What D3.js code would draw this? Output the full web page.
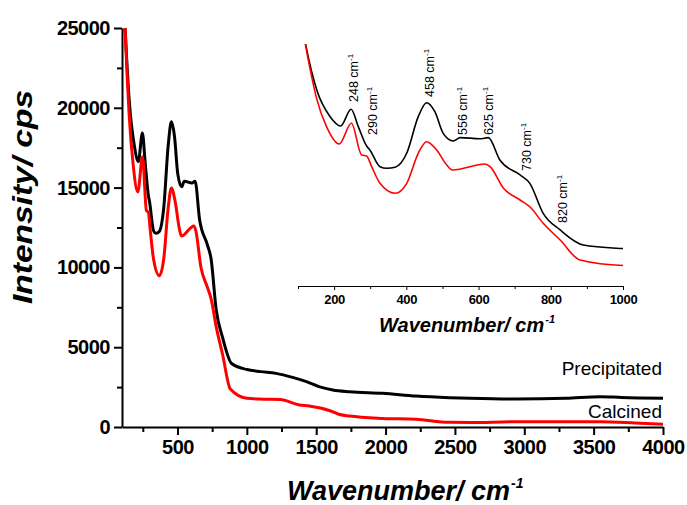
<!DOCTYPE html>
<html>
<head>
<meta charset="utf-8">
<script src="https://cdn.jsdelivr.net/npm/d3@7"></script>
<style>
    body { margin: 0; background: #fff; }
    svg { font-family: "Liberation Sans", Arial, sans-serif; }
    .axis path, .axis line { stroke: #000; }
</style>
</head>
<body>
<svg class="svg" width="687" height="505"></svg>
<script>
// wavenumber (cm-1) and intensity (cps)
const precipX = [100, 122, 152, 189, 218, 247, 267, 290, 299, 327, 346, 369, 401, 433, 456, 479, 502, 530, 549, 604, 627, 659, 715, 742, 779, 826, 890, 1000, 1100, 1210, 1330, 1430, 1520, 1620, 1740, 1980, 2220, 2460, 2610, 2940, 3300, 3550, 3700, 4000];
const precipY = [30000, 25150, 20470, 17630, 16640, 18420, 16570, 14510, 14090, 12310, 12140, 12250, 13740, 17630, 19120, 18160, 15860, 15050, 15400, 15290, 15400, 13020, 11430, 10540, 7350, 5580, 3980, 3600, 3470, 3360, 3110, 2840, 2530, 2320, 2210, 2110, 1940, 1840, 1800, 1750, 1800, 1900, 1850, 1800];

const calcX = [100, 122, 140, 152, 179, 214, 248, 276, 290, 304, 327, 369, 401, 433, 456, 484, 512, 528, 618, 632, 669, 715, 742, 779, 826, 881, 1000, 1090, 1240, 1380, 1450, 1600, 1670, 1740, 1980, 2220, 2460, 2610, 2940, 3550, 3800, 4000];
const calcY = [30000, 25000, 21500, 19500, 16570, 14730, 16930, 13560, 13450, 12310, 10540, 9480, 10540, 13740, 14970, 14090, 12490, 11960, 12600, 12310, 10010, 8770, 8050, 6290, 4510, 2380, 1800, 1750, 1720, 1380, 1320, 1020, 780, 690, 540, 480, 290, 280, 330, 330, 250, 170];

const seriesNames = ['Precipitated', 'Calcined'];
const seriesColors = ['#000', '#ff0000'];

const xTicks = [500, 1000, 1500, 2000, 2500, 3000, 3500, 4000];
const yTicks = [0, 5000, 10000, 15000, 20000, 25000];
const insetTicks = [200, 400, 600, 800, 1000];

// peak labels in the inset: wavenumber text and where it sits
const peakLabels = ['248', '290', '458', '556', '625', '730', '820'];
const peakPos = [[358, 102], [377, 135], [434, 97], [467, 135], [493, 135], [531, 171], [567, 223]];

function drawChart () {
    const margin = { top: 28, right: 24, bottom: 78, left: 122 };
    const width = 687;
    const height = 505;

    const svg = d3.select('.svg');

    const series = [
        precipX.map((x, i) => ({ x: x, y: precipY[i] })),
        calcX.map((x, i) => ({ x: x, y: calcY[i] }))
    ];

    /* MAIN SCALES */
    const xScale = d3.scaleLinear()
        .domain([100, 4000])
        .range([margin.left, width - margin.right]);
    const yScale = d3.scaleLinear()
        .domain([0, 25000])
        .range([height - margin.bottom, margin.top]);

    svg.append('defs').append('clipPath')
        .attr('id', 'clip-main')
        .append('rect')
        .attr('x', margin.left)
        .attr('y', margin.top)
        .attr('width', width - margin.left - margin.right)
        .attr('height', height - margin.top - margin.bottom);

    const line = d3.line()
        .x(d => xScale(d.x))
        .y(d => yScale(d.y))
        .curve(d3.curveMonotoneX);

    svg.append('g')
        .attr('clip-path', 'url(#clip-main)')
        .selectAll('path')
        .data(series).enter()
        .append('path')
        .attr('d', line)
        .attr('fill', 'none')
        .attr('stroke', (d, i) => seriesColors[i])
        .attr('stroke-width', 3)
        .attr('stroke-linejoin', 'round');

    /* MAIN AXES */
    const xMinor = svg.append('g')
        .attr('class', 'axis')
        .attr('transform', `translate(0, ${height - margin.bottom})`)
        .call(d3.axisBottom(xScale).tickValues(d3.range(250, 4000, 500)).tickSize(5).tickFormat(''));
    xMinor.select('.domain').remove();
    xMinor.selectAll('line').attr('stroke-width', 2);

    const xAxis = svg.append('g')
        .attr('class', 'axis')
        .attr('transform', `translate(0, ${height - margin.bottom})`)
        .call(d3.axisBottom(xScale).tickValues(xTicks).tickSize(8).tickSizeOuter(0).tickPadding(5).tickFormat(d3.format('d')));
    xAxis.selectAll('path, line').attr('stroke-width', 2);
    xAxis.selectAll('text')
        .attr('font-size', 20)
        .attr('font-weight', 'bold')
        .attr('letter-spacing', -0.5);

    const yMinor = svg.append('g')
        .attr('class', 'axis')
        .attr('transform', `translate(${margin.left}, 0)`)
        .call(d3.axisLeft(yScale).tickValues(d3.range(2500, 25000, 5000)).tickSize(5).tickFormat(''));
    yMinor.select('.domain').remove();
    yMinor.selectAll('line').attr('stroke-width', 2);

    const yAxis = svg.append('g')
        .attr('class', 'axis')
        .attr('transform', `translate(${margin.left}, 0)`)
        .call(d3.axisLeft(yScale).tickValues(yTicks).tickSize(8).tickSizeOuter(0).tickPadding(4).tickFormat(d3.format('d')));
    yAxis.selectAll('path, line').attr('stroke-width', 2);
    yAxis.selectAll('text')
        .attr('font-size', 20)
        .attr('font-weight', 'bold')
        .attr('letter-spacing', -0.5);

    /* TITLES */
    const xTitle = svg.append('text')
        .attr('x', 287)
        .attr('y', 500)
        .attr('font-size', 27)
        .attr('font-weight', 'bold')
        .attr('font-style', 'italic');
    xTitle.append('tspan').text('Wavenumber/ cm');
    xTitle.append('tspan')
        .attr('dx', 1)
        .attr('dy', -12)
        .attr('font-size', 14)
        .text('-1');

    svg.append('text')
        .attr('transform', 'rotate(-90)')
        .attr('x', -304)
        .attr('y', 32)
        .attr('font-size', 28)
        .attr('font-weight', 'bold')
        .attr('font-style', 'italic')
        .attr('textLength', 214)
        .attr('lengthAdjust', 'spacingAndGlyphs')
        .text('Intensity/ cps');

    /* SERIES LABELS */
    svg.append('text')
        .attr('x', 662)
        .attr('y', 375)
        .attr('text-anchor', 'end')
        .attr('font-size', 19)
        .text(seriesNames[0]);
    svg.append('text')
        .attr('x', 662)
        .attr('y', 418)
        .attr('text-anchor', 'end')
        .attr('font-size', 19)
        .text(seriesNames[1]);

    /* INSET */
    const ix = d3.scaleLinear().domain([100, 1000]).range([298, 623]);
    const iy = d3.scaleLinear().domain([0, 25300]).range([282.4, 44.6]);

    svg.select('defs').append('clipPath')
        .attr('id', 'clip-inset')
        .append('rect')
        .attr('x', 298)
        .attr('y', 44)
        .attr('width', 325)
        .attr('height', 242);

    const insetLine = d3.line()
        .x(d => ix(d.x))
        .y(d => iy(d.y))
        .curve(d3.curveMonotoneX);

    svg.append('g')
        .attr('clip-path', 'url(#clip-inset)')
        .selectAll('path')
        .data(series.map(s => s.filter(d => d.x <= 1100))).enter()
        .append('path')
        .attr('d', insetLine)
        .attr('fill', 'none')
        .attr('stroke', (d, i) => seriesColors[i])
        .attr('stroke-width', 1.6);

    const iMinor = svg.append('g')
        .attr('class', 'axis')
        .attr('transform', 'translate(0, 286)')
        .call(d3.axisBottom(ix).tickValues(d3.range(100, 1000, 200)).tickSize(3).tickFormat(''));
    iMinor.select('.domain').remove();

    const iAxis = svg.append('g')
        .attr('class', 'axis')
        .attr('transform', 'translate(0, 286)')
        .call(d3.axisBottom(ix).tickValues(insetTicks).tickSize(4).tickSizeOuter(0).tickPadding(5).tickFormat(d3.format('d')));
    iAxis.selectAll('text')
        .attr('font-size', 13)
        .attr('font-weight', 'bold')
        .attr('letter-spacing', -0.3);

    const iTitle = svg.append('text')
        .attr('x', 379)
        .attr('y', 332)
        .attr('font-size', 20)
        .attr('font-weight', 'bold')
        .attr('font-style', 'italic');
    iTitle.append('tspan').text('Wavenumber/ cm');
    iTitle.append('tspan')
        .attr('dx', 1)
        .attr('dy', -9)
        .attr('font-size', 11)
        .text('-1');

    const peaks = svg.append('g')
        .selectAll('text')
        .data(peakLabels).enter()
        .append('text')
        .attr('transform', (d, i) => `translate(${peakPos[i][0]}, ${peakPos[i][1]}) rotate(-90)`)
        .attr('font-size', 12.5);
    peaks.append('tspan').text(d => d + ' cm');
    peaks.append('tspan')
        .attr('dy', -5)
        .attr('font-size', 8)
        .text('-1');
}

document.addEventListener('DOMContentLoaded', drawChart);
</script>
</body>
</html>
